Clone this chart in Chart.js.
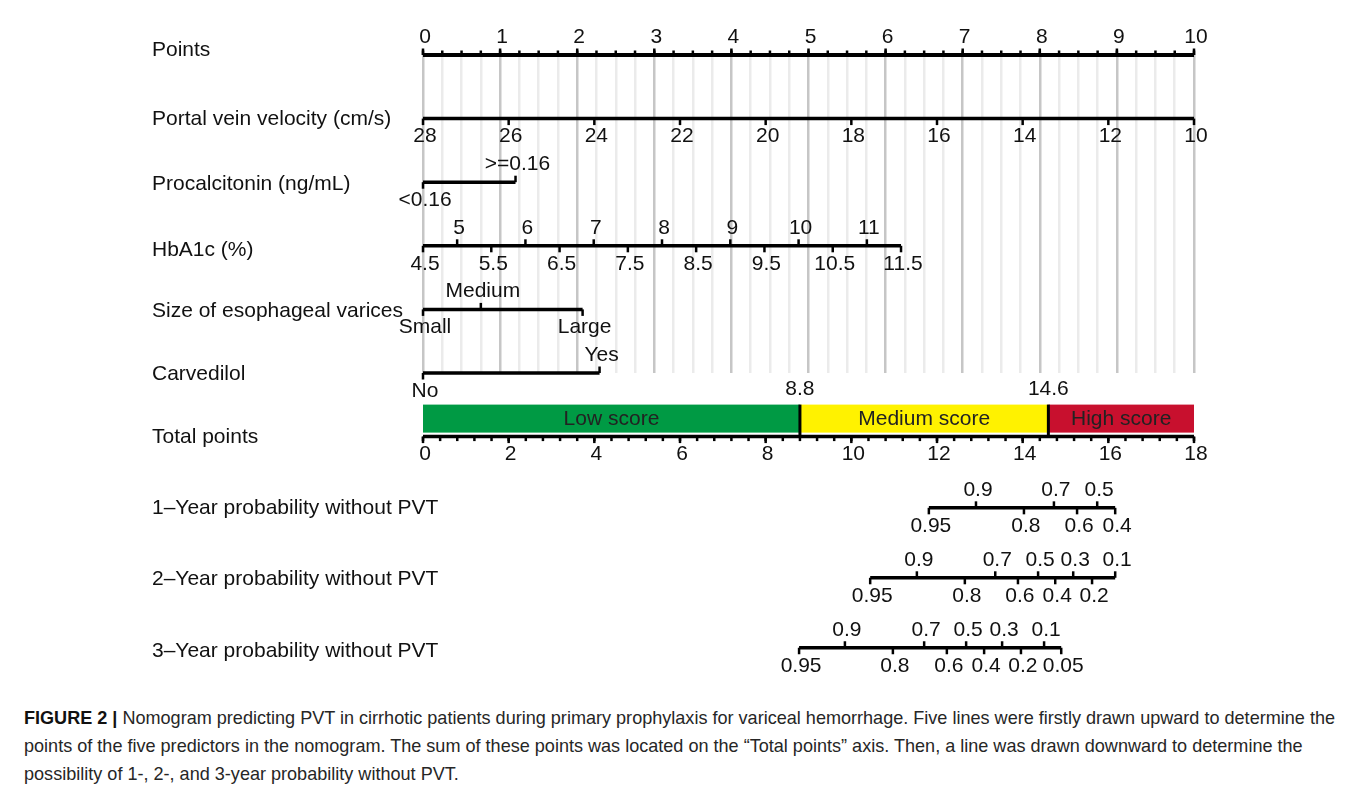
<!DOCTYPE html>
<html>
<head>
<meta charset="utf-8">
<title>Nomogram predicting PVT</title>
<script src="https://cdn.jsdelivr.net/npm/chart.js@4/dist/chart.umd.min.js"></script>
<style>
  html, body { margin: 0; padding: 0; background: #fff; }
  #page { position: relative; width: 1357px; height: 787px; overflow: hidden; }
  #nomo { position: absolute; left: 0; top: 0; }
  #caption {
    position: absolute; left: 24px; top: 704px;
    font-family: 'Liberation Sans Narrow', 'Arial Narrow', 'Liberation Sans', sans-serif;
    font-size: 18.5px; line-height: 28px; color: #262626; white-space: nowrap;
    transform-origin: 0 0;
  }
  #caption b { color: #111; }
</style>
</head>
<body>
<div id="page">
  <canvas id="nomo" width="1357" height="690"></canvas>
  <div id="caption">
    <div class="cl"><b>FIGURE 2 |</b> Nomogram predicting PVT in cirrhotic patients during primary prophylaxis for variceal hemorrhage. Five lines were firstly drawn upward to determine the</div>
    <div class="cl">points of the five predictors in the nomogram. The sum of these points was located on the “Total points” axis. Then, a line was drawn downward to determine the</div>
    <div class="cl">possibility of 1-, 2-, and 3-year probability without PVT.</div>
  </div>
</div>
<script>
// ---- Nomogram content -------------------------------------------------------
const rowTitles = [
  'Points',
  'Portal vein velocity (cm/s)',
  'Procalcitonin (ng/mL)',
  'HbA1c (%)',
  'Size of esophageal varices',
  'Carvedilol',
  'Total points',
  '1\u2013Year probability without PVT',
  '2\u2013Year probability without PVT',
  '3\u2013Year probability without PVT'
];

// Points scale (0-10)
const pointsTicks = [0, 1, 2, 3, 4, 5, 6, 7, 8, 9, 10];

// Portal vein velocity: 28 cm/s -> 0 points, 10 cm/s -> 10 points
const pvvTicks = [28, 26, 24, 22, 20, 18, 16, 14, 12, 10];
const pvvValueEnds = [28, 10];
const pvvPointEnds = [0, 10];

// Procalcitonin levels
const pctLevels = ['<0.16', '>=0.16'];
const pctPoints = [0, 1.2];

// HbA1c: 4.5 % -> 0 points, 11.5 % -> 6.2 points
const hbaTicks = [4.5, 5, 5.5, 6, 6.5, 7, 7.5, 8, 8.5, 9, 9.5, 10, 10.5, 11, 11.5];
const hbaValueEnds = [4.5, 11.5];
const hbaPointEnds = [0, 6.2];

// Size of esophageal varices
const varicesLevels = ['Small', 'Medium', 'Large'];
const varicesPoints = [0, 0.75, 2.07];

// Carvedilol
const carvedilolLevels = ['No', 'Yes'];
const carvedilolPoints = [0, 2.29];

// Total points scale (0-18) and risk groups
const totalTicks = [0, 2, 4, 6, 8, 10, 12, 14, 16, 18];
const riskCuts = [8.8, 14.6];
const riskGroups = ['Low score', 'Medium score', 'High score'];
const riskColors = ['#009a44', '#fff200', '#c8102e'];

// Survival probabilities and their positions on the total points scale
const prob1Labels = [0.95, 0.9, 0.8, 0.7, 0.6, 0.5, 0.4];
const prob1Total  = [11.81, 12.91, 14.03, 14.73, 15.27, 15.74, 16.16];
const prob2Labels = [0.95, 0.9, 0.8, 0.7, 0.6, 0.5, 0.4, 0.3, 0.2, 0.1];
const prob2Total  = [10.44, 11.53, 12.65, 13.36, 13.89, 14.36, 14.76, 15.18, 15.62, 16.16];
const prob3Labels = [0.95, 0.9, 0.8, 0.7, 0.6, 0.5, 0.4, 0.3, 0.2, 0.1, 0.05];
const prob3Total  = [8.78, 9.85, 10.97, 11.70, 12.23, 12.68, 13.10, 13.52, 13.96, 14.50, 14.90];

// ---- Layout ----------------------------------------------------------------
const ROW_POS = [0, 1, 2, 3, 4, 5, 6, 7.12, 8.22, 9.32];
const TITLE_DY = [-5, 1, 2, 4, 2, 1, 1, 0, 1, 3];
const FONT = '"Liberation Sans", Arial, sans-serif';
const FONT_SIZE = 21;

function linMap(v, vals, pts) {
  return pts[0] + (v - vals[0]) * (pts[1] - pts[0]) / (vals[1] - vals[0]);
}
const alternate = (n) => Array.from({ length: n }, (_, i) => (i % 2 === 0 ? 'below' : 'above'));
const same = (n, s) => Array.from({ length: n }, () => s);

const axes = [
  { row: 0, scale: 'x', pos: pointsTicks, labels: pointsTicks.map(String), side: same(11, 'above'),
    width: 4, minorStep: 0.25, minorSide: 'above', range: [0, 10] },
  { row: 1, scale: 'x', pos: pvvTicks.map(v => linMap(v, pvvValueEnds, pvvPointEnds)),
    labels: pvvTicks.map(String), side: same(pvvTicks.length, 'below'), width: 3.5 },
  { row: 2, scale: 'x', pos: pctPoints, labels: pctLevels, side: alternate(2), width: 3.5 },
  { row: 3, scale: 'x', pos: hbaTicks.map(v => linMap(v, hbaValueEnds, hbaPointEnds)),
    labels: hbaTicks.map(String), side: alternate(hbaTicks.length), width: 3.5 },
  { row: 4, scale: 'x', pos: varicesPoints, labels: varicesLevels, side: alternate(3), width: 3.5 },
  { row: 5, scale: 'x', pos: carvedilolPoints, labels: carvedilolLevels, side: alternate(2), width: 3.5 },
  { row: 6, scale: 'x2', pos: totalTicks, labels: totalTicks.map(String), side: same(totalTicks.length, 'below'),
    width: 3.5, minorStep: 0.4, minorSide: 'below', range: [0, 18] },
  { row: 7, scale: 'x2', pos: prob1Total, labels: prob1Labels.map(String), side: alternate(prob1Labels.length), width: 3.5 },
  { row: 8, scale: 'x2', pos: prob2Total, labels: prob2Labels.map(String), side: alternate(prob2Labels.length), width: 3.5 },
  { row: 9, scale: 'x2', pos: prob3Total, labels: prob3Labels.map(String), side: alternate(prob3Labels.length), width: 3.5 }
];

// One line dataset per axis row
const datasets = axes.map(a => ({
  label: rowTitles[a.row],
  data: [
    { x: a.pos[0], y: ROW_POS[a.row] },
    { x: a.pos[a.pos.length - 1], y: ROW_POS[a.row] }
  ],
  xAxisID: a.scale,
  yAxisID: 'y',
  showLine: true,
  borderColor: '#000',
  borderWidth: a.width,
  borderCapStyle: 'butt',
  pointRadius: 0,
  clip: false
}));

const nomogramPlugin = {
  id: 'nomogram',
  beforeDatasetsDraw(chart) {
    // Risk group bands above the total points axis
    const ctx = chart.ctx, xs = chart.scales.x2, ys = chart.scales.y;
    const yRow = ys.getPixelForValue(ROW_POS[6]);
    const top = yRow - 32, bottom = yRow - 4;
    const edges = [0, ...riskCuts, 18];
    ctx.save();
    for (let i = 0; i < riskGroups.length; i++) {
      const x0 = xs.getPixelForValue(edges[i]), x1 = xs.getPixelForValue(edges[i + 1]);
      ctx.fillStyle = riskColors[i];
      ctx.fillRect(x0, top, x1 - x0, bottom - top);
      ctx.fillStyle = '#222';
      ctx.font = FONT_SIZE + 'px ' + FONT;
      ctx.textAlign = 'center';
      ctx.textBaseline = 'middle';
      ctx.fillText(riskGroups[i], (x0 + x1) / 2, (top + bottom) / 2 + 1);
    }
    ctx.strokeStyle = '#000';
    ctx.lineWidth = 3;
    ctx.fillStyle = '#111';
    ctx.font = FONT_SIZE + 'px ' + FONT;
    ctx.textAlign = 'center';
    ctx.textBaseline = 'middle';
    riskCuts.forEach(c => {
      const x = xs.getPixelForValue(c);
      ctx.beginPath();
      ctx.moveTo(x, top);
      ctx.lineTo(x, yRow);
      ctx.stroke();
      ctx.fillText(String(c), x, yRow - 47);
    });
    ctx.restore();
  },
  afterDatasetsDraw(chart) {
    const ctx = chart.ctx, ys = chart.scales.y;
    ctx.save();
    ctx.strokeStyle = '#000';
    ctx.lineCap = 'butt';
    ctx.font = FONT_SIZE + 'px ' + FONT;
    ctx.fillStyle = '#111';
    ctx.textBaseline = 'middle';
    axes.forEach(a => {
      const xs = chart.scales[a.scale];
      const y = ys.getPixelForValue(ROW_POS[a.row]);
      // minor ticks
      if (a.minorStep) {
        ctx.lineWidth = 2.5;
        const dir = a.minorSide === 'above' ? -1 : 1;
        const n = Math.round((a.range[1] - a.range[0]) / a.minorStep);
        for (let k = 0; k <= n; k++) {
          const v = a.range[0] + k * a.minorStep;
          const x = xs.getPixelForValue(v);
          ctx.beginPath();
          ctx.moveTo(x, y);
          ctx.lineTo(x, y + dir * 4.5);
          ctx.stroke();
        }
      }
      // labelled ticks
      a.pos.forEach((p, i) => {
        const x = xs.getPixelForValue(p);
        const dir = a.side[i] === 'above' ? -1 : 1;
        ctx.lineWidth = 2.5;
        ctx.beginPath();
        ctx.moveTo(x, y);
        ctx.lineTo(x, y + dir * 6.5);
        ctx.stroke();
        ctx.textAlign = 'center';
        ctx.fillText(a.labels[i], x + 2, y + (dir < 0 ? -18 : 18));
      });
      // row title
      ctx.textAlign = 'left';
      ctx.fillText(rowTitles[a.row], 152, y + TITLE_DY[a.row]);
    });
    ctx.restore();
  }
};

new Chart(document.getElementById('nomo'), {
  type: 'scatter',
  data: { datasets },
  options: {
    responsive: false,
    devicePixelRatio: 1,
    animation: false,
    events: [],
    layout: { padding: { left: 423, right: 163, top: 55, bottom: 317 } },
    plugins: { legend: { display: false }, tooltip: { enabled: false } },
    scales: {
      x: {
        type: 'linear', min: 0, max: 10, position: 'bottom',
        ticks: { display: false, stepSize: 0.25, autoSkip: false },
        grid: {
          drawTicks: false,
          color: c => (Math.abs(c.tick.value - Math.round(c.tick.value)) < 1e-6 ? '#c6c6c6' : '#ebebeb'),
          lineWidth: 2.5
        },
        border: { display: false }
      },
      x2: { type: 'linear', min: 0, max: 18, position: 'bottom', display: false },
      y: { type: 'linear', min: 0, max: 5, reverse: true, display: false }
    }
  },
  plugins: [nomogramPlugin]
});

// Caption lines share one horizontal scale so the first line spans the text block
(function fitCaption() {
  const cap = document.getElementById('caption');
  const first = cap.querySelector('.cl');
  const range = document.createRange();
  range.selectNodeContents(first);
  const tw = range.getBoundingClientRect().width || first.getBoundingClientRect().width;
  cap.style.transform = 'scaleX(' + (1311 / tw) + ')';
})();
</script>
</body>
</html>
